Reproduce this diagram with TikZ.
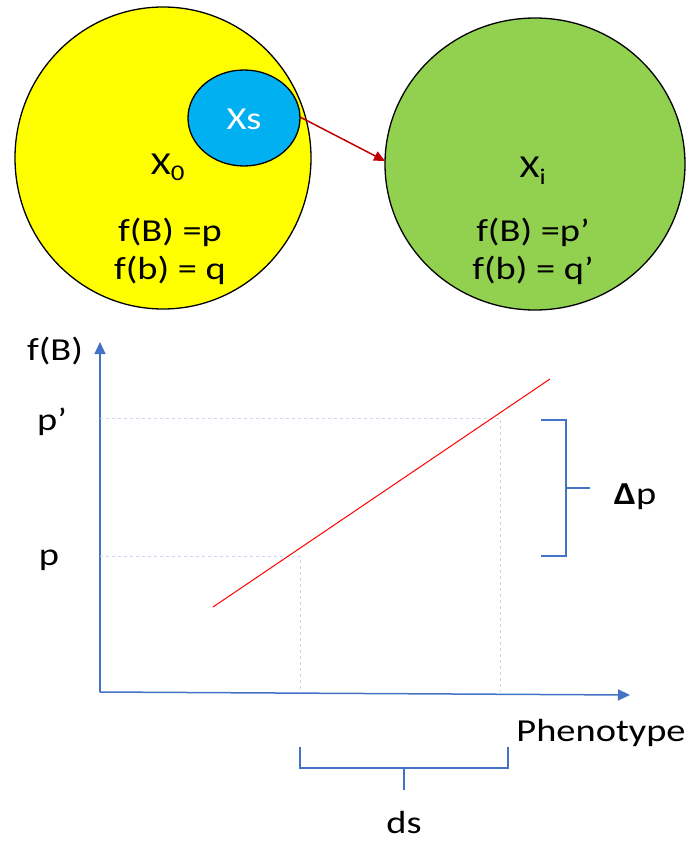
\documentclass[tikz,border=0pt]{standalone}
\usepackage{fontspec}
\setmainfont{Carlito}
\usetikzlibrary{shapes.geometric,arrows.meta}
\definecolor{yel}{HTML}{FFFF00}
\definecolor{grn}{HTML}{92D050}
\definecolor{blu}{HTML}{00B0F0}
\definecolor{axblue}{HTML}{4472C4}
\definecolor{darkred}{HTML}{C00000}
\definecolor{guide}{HTML}{C9D6EE}
\tikzset{
  blob/.style={ellipse, draw=black, line width=1.3pt, inner sep=0pt},
  lbl/.style={font=\fontsize{32}{36}\selectfont, inner sep=0pt, xscale=1.2, transform shape},
  axis/.style={axblue, line width=1.5pt, -{Triangle[length=12pt,width=11pt]}},
  guideline/.style={guide, dashed, line width=0.8pt},
  brace/.style={axblue, line width=1.2pt},
}
\begin{document}
\begin{tikzpicture}[x=1pt,y=-1pt]
\useasboundingbox (0,0) rectangle (692,841);
% populations
\node[blob, fill=yel, minimum width=296pt, minimum height=302pt] (pop0) at (163,158) {};
\node[blob, fill=grn, minimum width=300pt, minimum height=292pt] (popi) at (535,164) {};
\node[blob, fill=blu, minimum width=112pt, minimum height=96pt] (xs) at (244,118) {};
\node[lbl, white] (xstext) at (244,119) {Xs};
\node[lbl] (x0) at (168,167) {X\textsubscript{0}};
\node[lbl] (fb0) at (170,232) {f(B) =p};
\node[lbl] (fq0) at (170,270) {f(b) = q};
\node[lbl] (xi) at (533,171) {X\textsubscript{i}};
\node[lbl] (fbi) at (533,232) {f(B) =p’};
\node[lbl] (fqi) at (533,270) {f(b) = q’};
\coordinate (arrs) at (300,117);
\coordinate (arre) at (385,161);
\draw[darkred, line width=1.5pt, -{Triangle[length=11pt,width=10pt]}] (arrs) -- (arre);
% axes
\coordinate (origin) at (100,692);
\coordinate (ytop) at (100,342);
\coordinate (xend) at (630,695);
\draw[axis] (origin) -- (ytop);
\draw[axis] (origin) -- (xend);
\node[lbl] (ylab) at (55,351) {f(B)};
\node[lbl] (pp) at (52,422) {p’};
\node[lbl] (p) at (49,560) {p};
\node[lbl] (phen) at (601,733) {Phenotype};
% guides
\coordinate (g1) at (100,418);
\coordinate (g2) at (500,418);
\coordinate (g3) at (500,692);
\coordinate (g4) at (100,556);
\coordinate (g5) at (300,556);
\coordinate (g6) at (300,692);
\draw[guideline] (g1) -- (g2) -- (g3);
\draw[guideline] (g4) -- (g5) -- (g6);
% red line
\coordinate (r1) at (213,607);
\coordinate (r2) at (550,379);
\draw[red, line width=1pt] (r1) -- (r2);
% delta p bracket
\coordinate (b1) at (541,420);
\coordinate (b2) at (566,420);
\coordinate (b3) at (566,556);
\coordinate (b4) at (541,556);
\coordinate (bm) at (566,488);
\coordinate (bm2) at (590,488);
\draw[brace] (b1) -- (b2) -- (b3) -- (b4);
\draw[brace] (bm) -- (bm2);
\node[lbl] (dp) at (635,497) {\textbf{Δ}p};
% ds bracket
\coordinate (d1) at (300,747);
\coordinate (d2) at (300,768);
\coordinate (d3) at (508,768);
\coordinate (d4) at (508,747);
\coordinate (dm) at (404,768);
\coordinate (dm2) at (404,790);
\draw[brace] (d1) -- (d2) -- (d3) -- (d4);
\draw[brace] (dm) -- (dm2);
\node[lbl] (ds) at (404,822) {ds};
\end{tikzpicture}
\end{document}
